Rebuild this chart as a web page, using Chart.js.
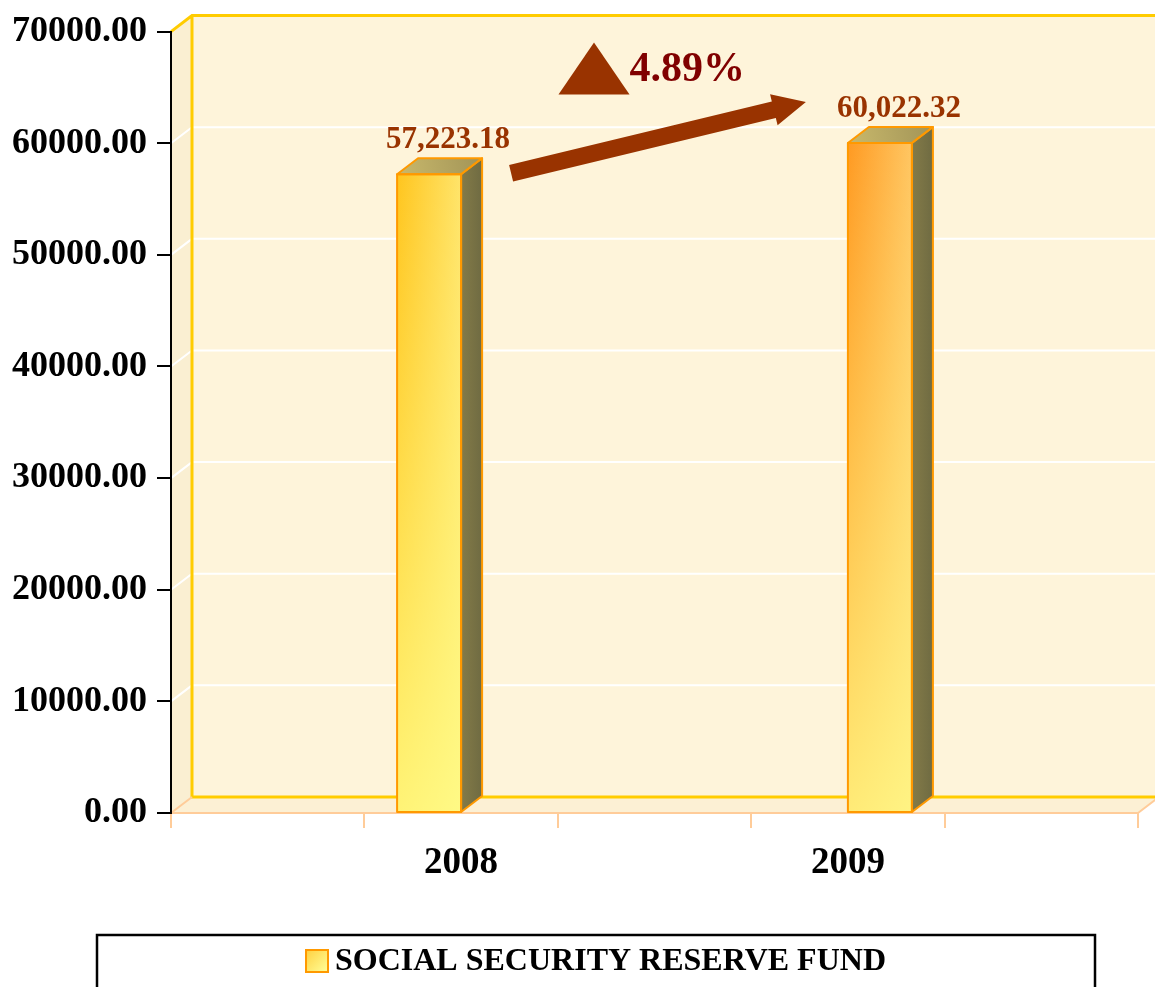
<!DOCTYPE html>
<html><head><meta charset="utf-8">
<script src="https://cdn.jsdelivr.net/npm/chart.js@4.4.1/dist/chart.umd.min.js"></script>
<style>html,body{margin:0;padding:0;background:#fff;}#wrap{width:1155px;height:987px;position:relative;}</style>
</head><body><div id="wrap"><canvas id="c" width="1155" height="987"></canvas></div>
<script>
// ---- data ----
const years = ['2008', '2009'];
const fundValues = [57223.18, 60022.32];
const seriesName = 'SOCIAL SECURITY RESERVE FUND';
const yTickValues = [0, 10000, 20000, 30000, 40000, 50000, 60000, 70000];

// category slots as in the original (blank slots around the years)
const categories = ['', years[0], '', years[1], ''];
const series2008 = [null, fundValues[0], null, null, null];
const series2009 = [null, null, null, fundValues[1], null];

const FONT = "'Liberation Serif', 'Times New Roman', serif";
const D = {dx: 21, dy: -16};
const faceColors = [
  {l: '#FFC51E', r: '#FFE46A'},
  {l: '#FF9A22', r: '#FFC662'}
];

function poly(ctx, pts) {
  ctx.beginPath();
  ctx.moveTo(pts[0][0], pts[0][1]);
  for (let i = 1; i < pts.length; i++) ctx.lineTo(pts[i][0], pts[i][1]);
  ctx.closePath();
}

const wallPlugin = {
  id: 'wall3d',
  beforeDraw(chart) {
    const {ctx, chartArea: a, scales: {y}} = chart;
    const L = a.left, R = a.right, T = a.top, B = a.bottom, dx = D.dx, dy = D.dy;
    ctx.save();
    ctx.fillStyle = '#FAEFD2';
    poly(ctx, [[L, T], [L + dx, T + dy], [L + dx, B + dy], [L, B]]); ctx.fill();
    ctx.fillStyle = '#FEF4DA';
    ctx.fillRect(L + dx, T + dy, R - L, B - T);
    ctx.fillStyle = '#FCF0D4';
    poly(ctx, [[L, B], [L + dx, B + dy], [R + dx, B + dy], [R, B]]); ctx.fill();
    ctx.strokeStyle = '#FFFFFF';
    ctx.lineWidth = 2;
    y.ticks.forEach(t => {
      if (t.value <= y.min || t.value >= y.max) return;
      const py = y.getPixelForValue(t.value);
      ctx.beginPath();
      ctx.moveTo(L, py); ctx.lineTo(L + dx, py + dy); ctx.lineTo(R + dx, py + dy);
      ctx.stroke();
    });
    ctx.strokeStyle = '#FFCC00';
    ctx.lineWidth = 3;
    ctx.beginPath();
    ctx.moveTo(L, T); ctx.lineTo(L + dx, T + dy); ctx.lineTo(R + dx + 5, T + dy);
    ctx.moveTo(L + dx, T + dy); ctx.lineTo(L + dx, B + dy); ctx.lineTo(R + dx + 5, B + dy);
    ctx.stroke();
    ctx.strokeStyle = '#FFCC99';
    ctx.lineWidth = 2;
    ctx.beginPath();
    ctx.moveTo(L, B); ctx.lineTo(L + dx, B + dy);
    ctx.moveTo(R, B); ctx.lineTo(R + dx, B + dy);
    ctx.stroke();
    ctx.restore();
  }
};

function drawArrow(ctx, x1, y1, x2, y2, shaftW, headW, headL, color) {
  const ang = Math.atan2(y2 - y1, x2 - x1);
  const len = Math.hypot(x2 - x1, y2 - y1);
  ctx.save();
  ctx.translate(x1, y1);
  ctx.rotate(ang);
  ctx.fillStyle = color;
  ctx.beginPath();
  ctx.moveTo(0, -shaftW / 2);
  ctx.lineTo(len - headL, -shaftW / 2);
  ctx.lineTo(len - headL, -headW / 2);
  ctx.lineTo(len, 0);
  ctx.lineTo(len - headL, headW / 2);
  ctx.lineTo(len - headL, shaftW / 2);
  ctx.lineTo(0, shaftW / 2);
  ctx.closePath();
  ctx.fill();
  ctx.restore();
}

const barPlugin = {
  id: 'bars3d',
  afterDatasetsDraw(chart) {
    const ctx = chart.ctx;
    const dx = D.dx, dy = D.dy;
    const tops = [];
    chart.data.datasets.forEach((ds, di) => {
      const meta = chart.getDatasetMeta(di);
      meta.data.forEach((bar, i) => {
        const v = ds.data[i];
        if (v === null || v === undefined) return;
        const w = bar.width, left = bar.x - w / 2, right = bar.x + w / 2, top = bar.y, base = bar.base;
        ctx.save();
        const g = ctx.createLinearGradient(left, 0, right, 0);
        g.addColorStop(0, faceColors[di].l);
        g.addColorStop(1, faceColors[di].r);
        ctx.fillStyle = g;
        ctx.fillRect(left, top, w, base - top);
        const g2 = ctx.createLinearGradient(0, top, 0, base);
        g2.addColorStop(0, 'rgba(255,255,140,0)');
        g2.addColorStop(1, 'rgba(255,255,140,0.8)');
        ctx.fillStyle = g2;
        ctx.fillRect(left, top, w, base - top);
        const gs = ctx.createLinearGradient(right, 0, right + dx, 0);
        gs.addColorStop(0, '#847B48');
        gs.addColorStop(1, '#6F6B42');
        ctx.fillStyle = gs;
        poly(ctx, [[right, top], [right + dx, top + dy], [right + dx, base + dy], [right, base]]);
        ctx.fill();
        const gt = ctx.createLinearGradient(left, top, right + dx, top + dy);
        gt.addColorStop(0, '#C9B96C');
        gt.addColorStop(1, '#A29457');
        ctx.fillStyle = gt;
        poly(ctx, [[left, top], [left + dx, top + dy], [right + dx, top + dy], [right, top]]);
        ctx.fill();
        ctx.strokeStyle = '#FF9900';
        ctx.lineWidth = 2;
        ctx.lineJoin = 'round';
        ctx.strokeRect(left, top, w, base - top);
        poly(ctx, [[left, top], [left + dx, top + dy], [right + dx, top + dy], [right, top]]);
        ctx.stroke();
        poly(ctx, [[right, top], [right + dx, top + dy], [right + dx, base + dy], [right, base]]);
        ctx.stroke();
        ctx.fillStyle = '#993300';
        ctx.font = "bold 31px " + FONT;
        ctx.textAlign = 'center';
        ctx.textBaseline = 'alphabetic';
        const txt = v.toLocaleString('en-US', {minimumFractionDigits: 2, maximumFractionDigits: 2});
        ctx.fillText(txt, bar.x + 19, top + dy - 10);
        ctx.restore();
        tops.push({left, right, top});
      });
    });
    if (tops.length === 2) {
      const a = tops[0], b = tops[1];
      const x1 = a.right + 50, y1 = a.top - 1;
      const x2 = b.left - 42, y2 = b.top - 41;
      drawArrow(ctx, x1, y1, x2, y2, 17, 32, 33, '#993300');
      const mx = (x1 + x2) / 2, my = (y1 + y2) / 2;
      const triL = mx - 100, triR = mx - 29, triTop = my - 95, triBot = my - 43;
      ctx.save();
      ctx.fillStyle = '#993300';
      poly(ctx, [[triL, triBot], [(triL + triR) / 2, triTop], [triR, triBot]]);
      ctx.fill();
      const pct = ((fundValues[1] - fundValues[0]) / fundValues[0] * 100).toFixed(2) + '%';
      ctx.fillStyle = '#800000';
      ctx.font = "bold 42px " + FONT;
      ctx.textAlign = 'left';
      ctx.textBaseline = 'alphabetic';
      ctx.fillText(pct, triR, my - 57);
      ctx.restore();
    }
  }
};

const legendPlugin = {
  id: 'legendBox',
  afterDraw(chart) {
    const ctx = chart.ctx;
    const boxL = 97, boxR = 1095, boxT = chart.scales.x.bottom + 2;
    ctx.save();
    ctx.strokeStyle = '#000';
    ctx.lineWidth = 2.5;
    ctx.strokeRect(boxL, boxT, boxR - boxL, 100);
    ctx.font = "bold 32px " + FONT;
    const tw = ctx.measureText(seriesName).width;
    const mk = 22, gap = 7;
    const total = mk + gap + tw;
    const sx = (boxL + boxR) / 2 - total / 2;
    const cy = boxT + 26;
    const g = ctx.createLinearGradient(sx, cy - mk / 2, sx + mk, cy + mk / 2);
    g.addColorStop(0, '#FFD040');
    g.addColorStop(1, '#FFFF99');
    ctx.fillStyle = g;
    ctx.fillRect(sx, cy - mk / 2, mk, mk);
    ctx.strokeStyle = '#FF9900';
    ctx.lineWidth = 2;
    ctx.strokeRect(sx, cy - mk / 2, mk, mk);
    ctx.fillStyle = '#000';
    ctx.textAlign = 'left';
    ctx.textBaseline = 'middle';
    ctx.fillText(seriesName, sx + mk + gap, cy + 1);
    ctx.restore();
  }
};

new Chart(document.getElementById('c'), {
  type: 'bar',
  data: {
    labels: categories,
    datasets: [
      {label: seriesName, data: series2008, backgroundColor: 'rgba(0,0,0,0)', borderWidth: 0},
      {label: seriesName, data: series2009, backgroundColor: 'rgba(0,0,0,0)', borderWidth: 0}
    ]
  },
  options: {
    responsive: false,
    devicePixelRatio: 1,
    animation: false,
    categoryPercentage: 0.662,
    barPercentage: 1,
    layout: {padding: {top: 30, right: 17, bottom: 54, left: 0}},
    plugins: {legend: {display: false}, tooltip: {enabled: false}},
    scales: {
      x: {
        offset: true,
        grid: {display: true, offset: true, drawOnChartArea: false, drawTicks: true, tickLength: 15, color: '#FFCC99', lineWidth: 2},
        border: {display: true, color: '#FFCC99', width: 2},
        ticks: {font: {family: FONT, size: 37, weight: 'bold'}, color: '#000', padding: 13, maxRotation: 0, autoSkip: false},
        afterFit: s => { s.height = 120; }
      },
      y: {
        min: 0, max: 70000,
        afterBuildTicks: s => { s.ticks = yTickValues.map(v => ({value: v})); },
        ticks: {font: {family: FONT, size: 36, weight: 'bold'}, color: '#000', padding: 10, callback: v => Number(v).toFixed(2)},
        grid: {display: true, drawOnChartArea: false, drawTicks: true, tickLength: 14, color: '#000', lineWidth: 2},
        border: {display: true, color: '#000', width: 2},
        afterFit: s => { s.width = 171; }
      }
    }
  },
  plugins: [wallPlugin, barPlugin, legendPlugin]
});
</script>
</body></html>
